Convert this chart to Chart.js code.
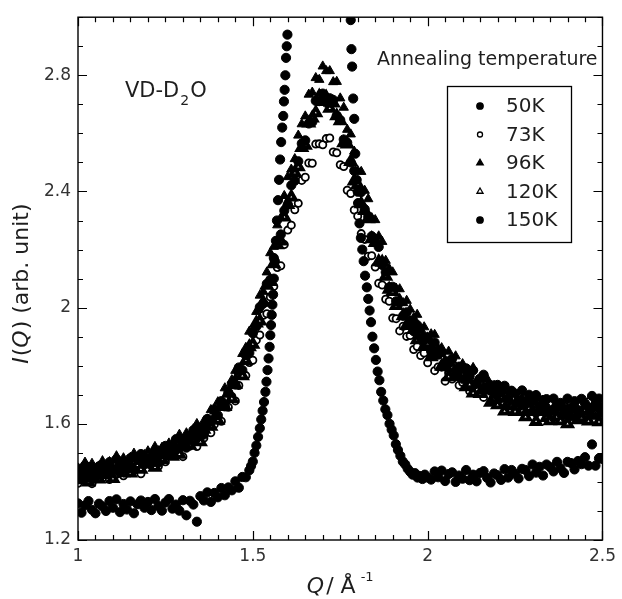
<!DOCTYPE html>
<html>
<head>
<meta charset="utf-8">
<script src="https://cdn.jsdelivr.net/npm/chart.js"></script>
<style>
  body { margin: 0; background: #fff; }
  #c { display: block; }
</style>
</head>
<body>
<canvas id="c" width="622" height="599"></canvas>
<script>
// series names (annealing temperature)
const seriesNames = ['50K', '73K', '96K', '120K', '150K'];

// tick labels
const xTickLabels = [1, 1.5, 2, 2.5];
const yTickLabels = [1.2, 1.6, 2, 2.4, 2.8];

// Q grid shared by the 50K..120K runs
const qBroad = [
  1.00,1.01,1.02,1.03,1.04,1.05,1.06,1.07,1.08,1.09,
  1.10,1.11,1.12,1.13,1.14,1.15,1.16,1.17,1.18,1.19,
  1.20,1.21,1.22,1.23,1.24,1.25,1.26,1.27,1.28,1.29,
  1.30,1.31,1.32,1.33,1.34,1.35,1.36,1.37,1.38,1.39,
  1.40,1.41,1.42,1.43,1.44,1.45,1.46,1.47,1.48,1.49,
  1.50,1.51,1.52,1.53,1.54,1.55,1.56,1.57,1.58,1.59,
  1.60,1.61,1.62,1.63,1.64,1.65,1.66,1.67,1.68,1.69,
  1.70,1.71,1.72,1.73,1.74,1.75,1.76,1.77,1.78,1.79,
  1.80,1.81,1.82,1.83,1.84,1.85,1.86,1.87,1.88,1.89,
  1.90,1.91,1.92,1.93,1.94,1.95,1.96,1.97,1.98,1.99,
  2.00,2.01,2.02,2.03,2.04,2.05,2.06,2.07,2.08,2.09,
  2.10,2.11,2.12,2.13,2.14,2.15,2.16,2.17,2.18,2.19,
  2.20,2.21,2.22,2.23,2.24,2.25,2.26,2.27,2.28,2.29,
  2.30,2.31,2.32,2.33,2.34,2.35,2.36,2.37,2.38,2.39,
  2.40,2.41,2.42,2.43,2.44,2.45,2.46,2.47,2.48,2.49,2.50
];

const i50 = [
  1.446,1.418,1.457,1.414,1.442,1.412,1.454,1.443,1.427,1.468,
  1.440,1.478,1.432,1.467,1.457,1.482,1.441,1.477,1.496,1.461,
  1.481,1.464,1.504,1.466,1.509,1.524,1.503,1.497,1.547,1.517,
  1.546,1.518,1.555,1.578,1.551,1.583,1.563,1.617,1.609,1.650,
  1.629,1.678,1.660,1.708,1.737,1.735,1.794,1.785,1.836,1.844,
  1.912,1.935,2.002,2.014,2.082,2.096,2.171,2.230,2.252,2.334,
  2.355,2.421,2.437,2.504,2.565,2.576,2.634,2.639,2.712,2.711,
  2.737,2.706,2.721,2.715,2.661,2.646,2.579,2.568,2.500,2.471,
  2.399,2.398,2.339,2.313,2.246,2.235,2.209,2.147,2.122,2.070,
  2.072,2.022,2.018,1.972,1.984,1.954,1.919,1.940,1.896,1.900,
  1.892,1.850,1.880,1.838,1.847,1.798,1.815,1.824,1.783,1.797,
  1.755,1.791,1.764,1.784,1.740,1.756,1.769,1.728,1.733,1.706,
  1.734,1.709,1.731,1.685,1.714,1.704,1.679,1.715,1.676,1.700,
  1.677,1.699,1.657,1.682,1.685,1.646,1.687,1.660,1.672,1.652,
  1.687,1.655,1.678,1.647,1.686,1.670,1.656,1.696,1.668,1.687,1.657
];

const i73 = [
  1.395,1.433,1.410,1.429,1.394,1.428,1.441,1.413,1.428,1.408,
  1.446,1.426,1.461,1.421,1.447,1.432,1.470,1.449,1.428,1.468,
  1.478,1.456,1.474,1.454,1.494,1.469,1.514,1.498,1.491,1.529,
  1.487,1.526,1.523,1.551,1.522,1.560,1.551,1.595,1.569,1.598,
  1.618,1.609,1.662,1.657,1.694,1.679,1.732,1.768,1.766,1.811,
  1.819,1.888,1.906,1.974,1.979,2.037,2.073,2.138,2.144,2.217,
  2.267,2.284,2.337,2.359,2.438,2.449,2.498,2.497,2.563,2.564,
  2.561,2.582,2.584,2.536,2.533,2.492,2.486,2.404,2.393,2.336,
  2.315,2.255,2.235,2.177,2.179,2.140,2.084,2.078,2.029,2.022,
  1.964,1.962,1.920,1.936,1.901,1.904,1.856,1.866,1.835,1.844,
  1.810,1.832,1.783,1.796,1.795,1.747,1.775,1.754,1.771,1.733,
  1.742,1.760,1.713,1.737,1.717,1.737,1.691,1.725,1.712,1.689,
  1.721,1.687,1.708,1.686,1.664,1.692,1.683,1.656,1.691,1.658,
  1.670,1.636,1.674,1.643,1.655,1.670,1.635,1.656,1.623,1.661,
  1.640,1.665,1.629,1.649,1.663,1.638,1.676,1.644,1.659,1.633,1.666
];

const i96 = [
  1.447,1.423,1.467,1.437,1.463,1.426,1.454,1.472,1.442,1.469,
  1.439,1.489,1.461,1.482,1.455,1.484,1.498,1.470,1.488,1.464,
  1.506,1.493,1.521,1.490,1.518,1.489,1.533,1.530,1.515,1.563,
  1.539,1.568,1.543,1.582,1.600,1.578,1.609,1.595,1.648,1.643,
  1.675,1.673,1.723,1.708,1.751,1.783,1.780,1.841,1.862,1.918,
  1.923,1.986,2.042,2.055,2.122,2.188,2.210,2.284,2.309,2.385,
  2.450,2.476,2.512,2.593,2.632,2.659,2.734,2.741,2.791,2.785,
  2.831,2.815,2.815,2.777,2.778,2.721,2.689,2.613,2.597,2.538,
  2.471,2.468,2.403,2.374,2.309,2.302,2.246,2.227,2.162,2.134,
  2.122,2.066,2.064,2.016,2.024,1.994,1.965,1.976,1.926,1.933,
  1.898,1.909,1.907,1.860,1.861,1.820,1.849,1.818,1.833,1.794,
  1.806,1.766,1.783,1.793,1.748,1.755,1.728,1.755,1.727,1.732,
  1.692,1.722,1.709,1.685,1.710,1.667,1.680,1.688,1.641,1.668,
  1.646,1.675,1.638,1.653,1.665,1.626,1.655,1.641,1.666,1.626,
  1.646,1.620,1.655,1.643,1.632,1.664,1.639,1.657,1.625,1.665,1.646
];

const i120 = [
  1.435,1.407,1.423,1.399,1.439,1.432,1.410,1.454,1.425,1.445,
  1.411,1.441,1.459,1.431,1.456,1.430,1.467,1.457,1.443,1.484,
  1.461,1.481,1.450,1.497,1.477,1.496,1.517,1.488,1.510,1.495,
  1.533,1.552,1.526,1.543,1.568,1.538,1.581,1.605,1.591,1.618,
  1.612,1.659,1.659,1.705,1.687,1.735,1.768,1.765,1.818,1.865,
  1.874,1.947,1.954,2.018,2.077,2.090,2.151,2.216,2.229,2.312,
  2.355,2.381,2.465,2.485,2.551,2.559,2.635,2.653,2.671,2.728,
  2.709,2.724,2.686,2.704,2.660,2.643,2.567,2.563,2.503,2.436,
  2.424,2.357,2.334,2.306,2.237,2.224,2.158,2.156,2.108,2.063,
  2.055,2.007,2.022,1.972,1.938,1.945,1.924,1.889,1.908,1.866,
  1.876,1.831,1.842,1.845,1.798,1.798,1.762,1.793,1.763,1.768,
  1.769,1.727,1.735,1.706,1.736,1.704,1.716,1.721,1.674,1.686,
  1.665,1.689,1.644,1.672,1.662,1.642,1.672,1.645,1.624,1.653,
  1.642,1.608,1.642,1.648,1.621,1.610,1.647,1.624,1.610,1.638,
  1.600,1.629,1.637,1.614,1.621,1.647,1.609,1.632,1.640,1.607,1.640
];

// 150K run has its own Q points (denser on the steep flanks, peak top is off scale)
const q150 = [
  1.00,1.01,1.02,1.03,1.04,1.05,1.06,1.07,1.08,1.09,
  1.10,1.11,1.12,1.13,1.14,1.15,1.16,1.17,1.18,1.19,
  1.20,1.21,1.22,1.23,1.24,1.25,1.26,1.27,1.28,1.29,
  1.30,1.31,1.32,1.33,1.34,1.35,1.36,1.37,1.38,1.39,
  1.40,1.41,1.42,1.43,1.44,1.45,1.46,1.47,1.48,1.49,1.495,
  1.500,1.505,1.510,1.515,1.520,1.524,1.528,1.532,1.536,1.539,
  1.542,1.545,1.548,1.550,1.552,1.554,1.556,1.558,1.560,1.563,
  1.566,1.569,1.572,1.575,1.578,1.581,1.584,1.587,1.589,1.591,
  1.593,1.595,1.597,1.599,
  1.780,1.782,1.784,1.787,1.790,1.793,1.797,1.801,1.805,1.809,
  1.813,1.817,1.821,1.826,1.830,1.834,1.838,1.842,1.847,1.852,
  1.857,1.862,1.867,1.873,1.879,1.885,1.891,1.897,1.903,1.909,
  1.915,1.922,1.929,1.936,1.943,1.950,1.957,1.964,1.971,1.978,
  1.985,1.992,2.000,
  2.01,2.02,2.03,2.04,2.05,2.06,2.07,2.08,2.09,2.10,
  2.11,2.12,2.13,2.14,2.15,2.16,2.17,2.18,2.19,2.20,
  2.21,2.22,2.23,2.24,2.25,2.26,2.27,2.28,2.29,2.30,
  2.31,2.32,2.33,2.34,2.35,2.36,2.37,2.38,2.39,2.40,
  2.41,2.42,2.43,2.44,2.45,2.46,2.47,2.48,2.49,2.50
];
const i150 = [
  1.326,1.294,1.319,1.334,1.304,1.292,1.325,1.316,1.300,1.334,
  1.311,1.340,1.296,1.324,1.305,1.333,1.292,1.323,1.336,1.311,
  1.331,1.303,1.341,1.317,1.301,1.329,1.341,1.308,1.322,1.301,
  1.337,1.285,1.335,1.322,1.263,1.351,1.336,1.364,1.331,1.362,
  1.347,1.379,1.354,1.381,1.371,1.402,1.380,1.417,1.416,1.440,1.455,
  1.470,1.500,1.525,1.555,1.585,1.615,1.645,1.675,1.710,1.745,
  1.785,1.825,1.865,1.905,1.940,1.975,2.010,2.045,2.100,2.160,
  2.230,2.300,2.370,2.440,2.510,2.570,2.620,2.660,2.710,2.750,
  2.800,2.860,2.900,2.940,
  2.99,2.89,2.83,2.72,2.65,2.53,2.44,2.36,2.29,2.24,
  2.20,2.16,2.11,2.07,2.03,1.99,1.95,1.90,1.86,1.82,
  1.78,1.75,1.71,1.68,1.65,1.63,1.60,1.58,1.56,1.53,
  1.51,1.49,1.47,1.46,1.445,1.435,1.425,1.43,1.415,1.42,
  1.41,1.425,1.415,
  1.408,1.436,1.416,1.439,1.403,1.427,1.433,1.400,1.422,1.411,
  1.441,1.406,1.425,1.402,1.431,1.437,1.414,1.398,1.429,1.423,
  1.407,1.444,1.415,1.441,1.428,1.412,1.445,1.441,1.420,1.460,
  1.432,1.452,1.422,1.460,1.451,1.436,1.469,1.447,1.431,1.469,
  1.465,1.443,1.472,1.461,1.485,1.456,1.529,1.456,1.481,1.479
];

const markerStyles = [
  { pointStyle: 'circle',   radius: 4.6, backgroundColor: '#000', borderColor: '#000', borderWidth: 1 },
  { pointStyle: 'circle',   radius: 3.6, backgroundColor: '#fff', borderColor: '#000', borderWidth: 1.8 },
  { pointStyle: 'triangle', radius: 5.4, backgroundColor: '#000', borderColor: '#000', borderWidth: 1 },
  { pointStyle: 'triangle', radius: 5.0, backgroundColor: '#fff', borderColor: '#000', borderWidth: 3.8 },
  { pointStyle: 'circle',   radius: 4.6, backgroundColor: '#000', borderColor: '#000', borderWidth: 1 }
];

const seriesY = [i50, i73, i96, i120, i150];
const seriesQ = [qBroad, qBroad, qBroad, qBroad, q150];
// lowest order is painted last (on top)
const drawOrder = [2, 4, 1, 3, 0];

const datasets = seriesNames.map((name, k) => ({
  label: name,
  data: seriesQ[k].map((q, j) => ({ x: q, y: seriesY[k][j] })),
  showLine: false,
  pointStyle: markerStyles[k].pointStyle,
  pointRadius: markerStyles[k].radius,
  pointBackgroundColor: markerStyles[k].backgroundColor,
  pointBorderColor: markerStyles[k].borderColor,
  pointBorderWidth: markerStyles[k].borderWidth,
  order: drawOrder[k]
}));

const FONT = '"DejaVu Sans", Verdana, sans-serif';
const INK = '#1e1e1e';

function drawRuns(ctx, runs, x, y, align) {
  // runs: [{text, font, dy, gap}]
  let total = 0;
  runs.forEach(r => { ctx.font = r.font; r.w = ctx.measureText(r.text).width; total += r.w + (r.gap || 0); });
  let cx = align === 'center' ? x - total / 2 : x;
  ctx.textAlign = 'left';
  runs.forEach(r => {
    ctx.font = r.font;
    ctx.fillText(r.text, cx, y + (r.dy || 0));
    cx += r.w + (r.gap || 0);
  });
}

const framePlugin = {
  id: 'frame',
  afterDraw(chart) {
    const { ctx, chartArea: a, scales } = chart;
    const xs = scales.x, ys = scales.y;
    ctx.save();
    ctx.strokeStyle = '#000';
    ctx.lineWidth = 1.4;
    ctx.strokeRect(a.left, a.top, a.right - a.left, a.bottom - a.top);

    // inward ticks on all four sides
    ctx.lineWidth = 1.2;
    ctx.beginPath();
    for (let k = 0; k <= 30; k++) {
      const px = Math.round(xs.getPixelForValue(1 + k * 0.05)) + 0.5;
      const len = k % 10 === 0 ? 9 : 5;
      ctx.moveTo(px, a.bottom); ctx.lineTo(px, a.bottom - len);
      ctx.moveTo(px, a.top); ctx.lineTo(px, a.top + len);
    }
    for (let k = 0; k <= 18; k++) {
      const py = Math.round(ys.getPixelForValue(1.2 + k * 0.1)) + 0.5;
      const len = k % 4 === 0 ? 9 : 5;
      ctx.moveTo(a.left, py); ctx.lineTo(a.left + len, py);
      ctx.moveTo(a.right, py); ctx.lineTo(a.right - len, py);
    }
    ctx.stroke();

    ctx.fillStyle = INK;
    ctx.textBaseline = 'alphabetic';

    // x axis title: Q / Å^-1
    drawRuns(ctx, [
      { text: 'Q', font: 'italic 22px ' + FONT, gap: 2 },
      { text: '/ Å', font: '22px ' + FONT, gap: 5 },
      { text: '-1', font: '13px ' + FONT, dy: -12 }
    ], (a.left + a.right) / 2, 593, 'center');

    // y axis title: I(Q) (arb. unit)
    ctx.save();
    ctx.translate(28, (a.top + a.bottom) / 2 + 5);
    ctx.rotate(-Math.PI / 2);
    drawRuns(ctx, [
      { text: 'I', font: 'italic 22px ' + FONT, gap: 1 },
      { text: '(', font: '22px ' + FONT },
      { text: 'Q', font: 'italic 22px ' + FONT, gap: 1 },
      { text: ') (arb. unit)', font: '22px ' + FONT }
    ], 0, 0, 'center');
    ctx.restore();

    // sample label
    drawRuns(ctx, [
      { text: 'VD-D', font: '21px ' + FONT, gap: 1 },
      { text: '2', font: '14px ' + FONT, dy: 8, gap: 1 },
      { text: 'O', font: '21px ' + FONT }
    ], 125, 97, 'left');

    // legend heading
    ctx.font = '19px ' + FONT;
    ctx.textAlign = 'left';
    ctx.fillText('Annealing temperature', 377, 65);

    // legend box
    ctx.lineWidth = 1.3;
    ctx.strokeStyle = '#000';
    ctx.strokeRect(447.5, 86.5, 124, 156);
    seriesNames.forEach((name, k) => {
      const yy = 106 + k * 28.5;
      const m = markerStyles[k];
      ctx.fillStyle = m.backgroundColor;
      ctx.strokeStyle = m.borderColor;
      Chart.helpers.drawPoint(ctx, {
        pointStyle: m.pointStyle, radius: m.radius * 0.7, rotation: 0, borderWidth: m.borderWidth * 0.65
      }, 480, yy);
      ctx.fillStyle = INK;
      ctx.font = '20px ' + FONT;
      ctx.textBaseline = 'middle';
      ctx.fillText(name, 506, yy + 1);
    });
    ctx.restore();
  }
};

new Chart(document.getElementById('c').getContext('2d'), {
  type: 'scatter',
  data: { datasets: datasets },
  options: {
    responsive: false,
    animation: false,
    devicePixelRatio: 1,
    layout: { padding: { top: 11, right: 15, left: 0, bottom: 0 } },
    plugins: { legend: { display: false }, tooltip: { enabled: false } },
    scales: {
      x: {
        type: 'linear', min: 1, max: 2.5,
        afterBuildTicks: s => { s.ticks = xTickLabels.map(v => ({ value: v })); },
        afterFit: s => { s.height = 59; },
        ticks: { color: '#333', font: { family: FONT, size: 17 }, padding: 6, maxRotation: 0, autoSkip: false,
                 callback: v => String(v) },
        grid: { display: false, drawTicks: false },
        border: { display: false }
      },
      y: {
        type: 'linear', min: 1.2, max: 3.0,
        afterBuildTicks: s => { s.ticks = yTickLabels.map(v => ({ value: v })); },
        afterFit: s => { s.width = 78; },
        ticks: { color: '#333', font: { family: FONT, size: 17 }, padding: 7, autoSkip: false,
                 callback: v => String(v) },
        grid: { display: false, drawTicks: false },
        border: { display: false }
      }
    }
  },
  plugins: [framePlugin]
});
</script>
</body>
</html>
